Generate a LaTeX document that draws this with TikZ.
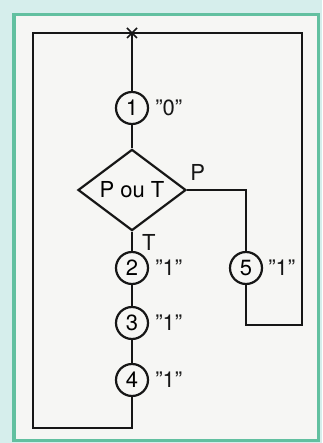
\documentclass[tikz,border=0pt]{standalone}
\usepackage{fontspec}
\setmainfont{TeX Gyre Heros}
\usetikzlibrary{positioning,shapes.geometric}
\definecolor{pageCyan}{RGB}{214, 238, 236}
\definecolor{frameGreen}{RGB}{98, 192, 160}
\definecolor{paperWhite}{RGB}{246, 246, 244}
\definecolor{inkBlack}{RGB}{22, 22, 22}

\begin{document}
\begin{tikzpicture}[x=1pt, y=-1pt,
    font=\fontsize{22pt}{26pt}\selectfont,
    wire/.style={draw=inkBlack, line width=2.2pt},
    stepnode/.style={circle, draw=inkBlack, line width=2.2pt, fill=paperWhite, minimum size=32pt, inner sep=0pt},
    valnode/.style={inner sep=0pt, text=inkBlack}]
  % page and frame
  \fill[pageCyan] (0,0) rectangle (322,443);
  \filldraw[fill=paperWhite, draw=frameGreen, line width=3.5pt] (14,14.5) rectangle (318.5,440.5);
  \useasboundingbox (0,0) rectangle (322,443);

  % steps
  \coordinate (join) at (132,33);
  \node[stepnode] (s1) at (132,108) {1};
  \node[diamond, draw=inkBlack, line width=2.2pt, minimum width=108pt, minimum height=78pt, inner sep=0pt] (dec) at (132,190) {P ou T};
  \node[stepnode] (s2) at (132,268) {2};
  \node[stepnode] (s3) at (132,323) {3};
  \node[stepnode] (s4) at (132,380) {4};
  \node[stepnode] (s5) at (246,268) {5};

  % outputs
  \node[valnode, right=6pt of s1] (v1) {"0"};
  \node[valnode, right=6pt of s2] (v2) {"1"};
  \node[valnode, right=6pt of s3] (v3) {"1"};
  \node[valnode, right=6pt of s4] (v4) {"1"};
  \node[valnode, right=5pt of s5] (v5) {"1"};
  \node[valnode, anchor=south west] (cP) at ([shift={(3,-9)}]dec.east) {P};
  \node[valnode, anchor=north west] (cT) at ([shift={(10,3)}]dec.south) {T};

  % return corners
  \coordinate (retL) at (33,428);
  \coordinate (retR) at (302,325);

  % links
  \draw[wire] (join) -- (s1) -- (dec) -- (s2) -- (s3) -- (s4);
  \draw[wire] (s4) |- (retL) |- (join);
  \draw[wire] (dec.east) -| (s5);
  \draw[wire] (s5) |- (retR) |- (join);
  \draw[wire, line width=1.6pt] ([shift={(-5,-5)}]join) -- ([shift={(5,5)}]join);
  \draw[wire, line width=1.6pt] ([shift={(-5,5)}]join) -- ([shift={(5,-5)}]join);
\end{tikzpicture}
\end{document}
